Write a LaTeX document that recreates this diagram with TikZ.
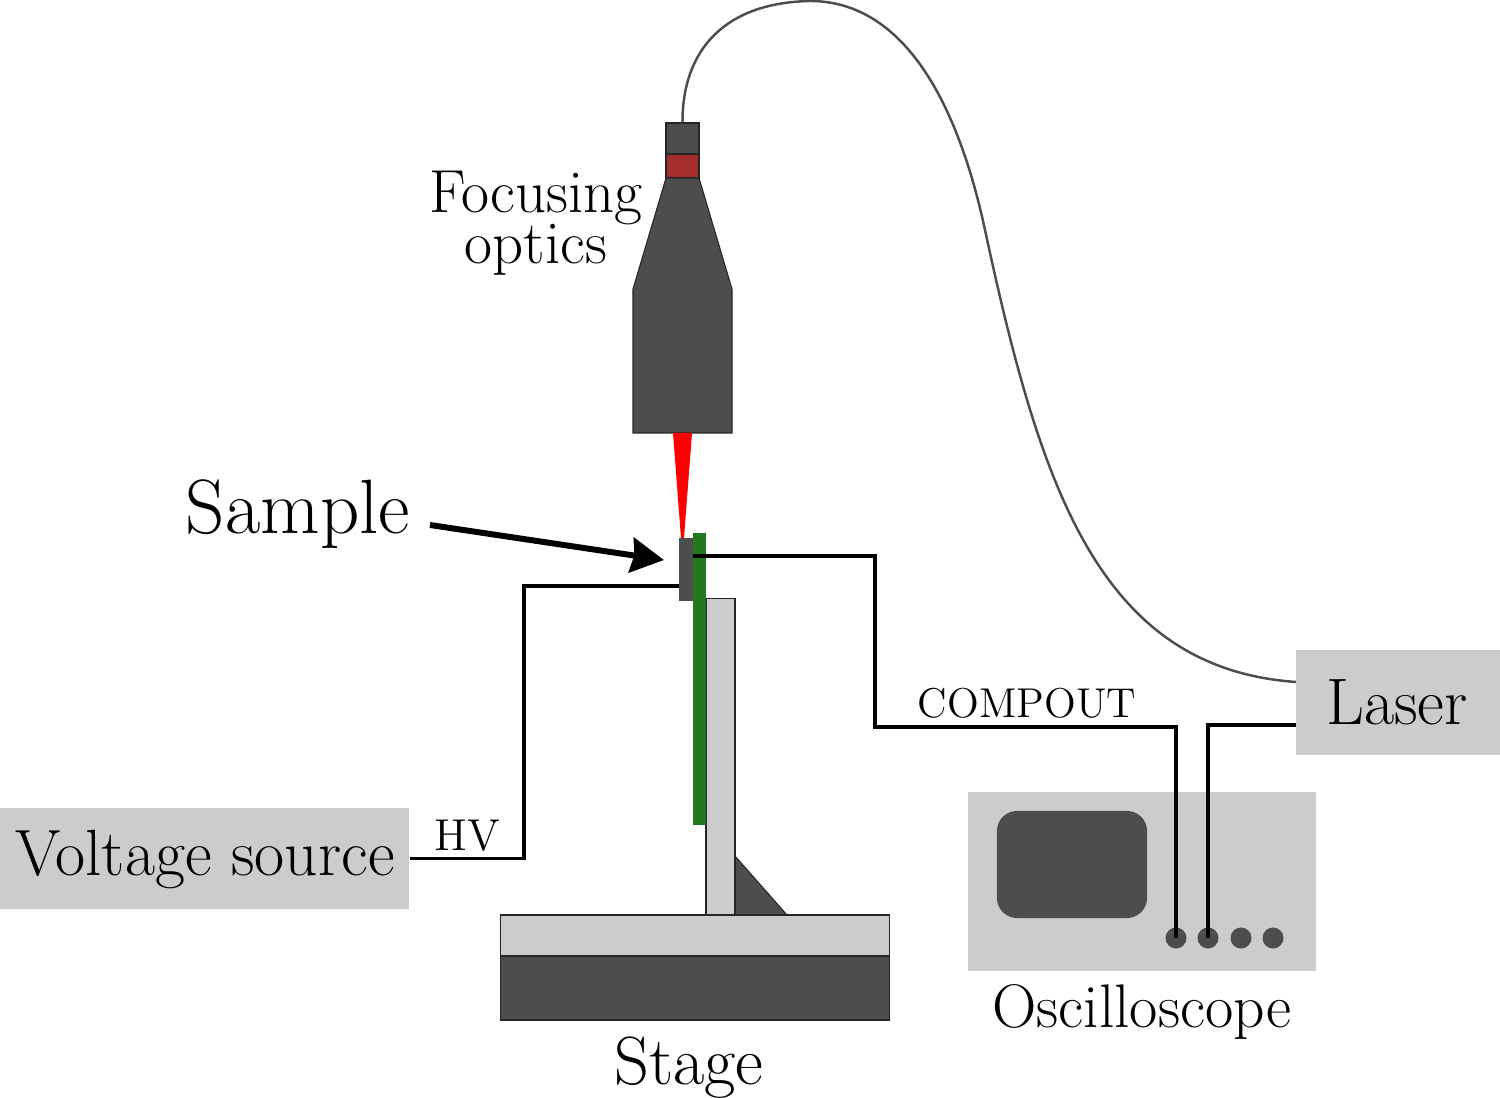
\documentclass[tikz,border=0pt]{standalone}
\usetikzlibrary{arrows.meta}
\definecolor{darkpart}{HTML}{4D4D4D}
\definecolor{lightpart}{HTML}{CCCCCC}
\definecolor{boardgreen}{HTML}{217821}
\definecolor{lensred}{HTML}{A52C2C}
\begin{document}
\begin{tikzpicture}[x=0.01cm,y=-0.01cm]
        \tikzset{part/.style = {rectangle,draw=black!85,line width=0.3pt,inner sep=0pt}}
        \tikzset{device/.style = {rectangle,fill=lightpart,inner sep=0pt}}
        \tikzset{knob/.style = {circle,fill=darkpart,inner sep=0pt,minimum size=0.21cm}}
        \tikzset{wire/.style = {draw=black,line width=1pt}}
        \useasboundingbox (0,0) rectangle (1500,1098);

        % beam and objective
        \node[part,fill=darkpart,minimum width=0.33cm,minimum height=0.31cm] (head) at (682.5,138.5) {};
        \node[part,fill=lensred,minimum width=0.33cm,minimum height=0.24cm] (lens) at (682.5,166) {};
        \draw[draw=black!85,line width=0.3pt,fill=darkpart] (666,178) -- (699,178) -- (732,289) -- (732,433) -- (633,433) -- (633,289) -- cycle;
        \fill[red] (673,433) -- (692,433) -- (684,538) -- (681,538) -- cycle;

        % sample mount
        \draw[draw=black!85,line width=0.3pt,fill=darkpart] (735,856) -- (787,915) -- (735,915) -- cycle;
        \node[part,fill=lightpart,minimum width=0.29cm,minimum height=3.16cm] (post) at (720.5,757) {};
        \node[rectangle,fill=boardgreen,inner sep=0pt,minimum width=0.13cm,minimum height=2.92cm] (board) at (699.5,679) {};
        \node[rectangle,fill=darkpart,inner sep=0pt,minimum width=0.14cm,minimum height=0.63cm] (sample) at (686,569.5) {};
        \node[part,fill=lightpart,minimum width=3.88cm,minimum height=0.41cm] (plate) at (695,935.5) {};
        \node[part,fill=darkpart,minimum width=3.88cm,minimum height=0.64cm] (stage) at (695,988) {};

        % instruments
        \node[device,minimum width=4.09cm,minimum height=1.01cm] (source) at (204.5,858.5) {};
        \node[device,minimum width=2.04cm,minimum height=1.05cm] (laser) at (1398,702.5) {};
        \node[device,minimum width=3.48cm,minimum height=1.79cm] (scope) at (1142,881.5) {};
        \node[rectangle,fill=darkpart,rounded corners=0.2cm,inner sep=0pt,minimum width=1.5cm,minimum height=1.07cm] (screen) at (1072,864.5) {};
        \node[knob] (knobA) at (1176,938) {};
        \node[knob] (knobB) at (1208,938) {};
        \node[knob] (knobC) at (1241,938) {};
        \node[knob] (knobD) at (1273,938) {};

        % labels
        \node[font=\fontsize{21.9}{24}\selectfont] (samplelabel) at (298,514) {Sample};
        \node[font=\fontsize{17.3}{17.3}\selectfont,align=center] (opticslabel) at (536,223) {Focusing\\[-0.1cm]optics};
        \node[font=\fontsize{19.4}{20}\selectfont] (stagelabel) at (689,1068) {Stage};
        \node[font=\fontsize{17.5}{18}\selectfont] (scopelabel) at (1142,1012) {Oscilloscope};
        \node[font=\fontsize{18.7}{20}\selectfont] (laserlabel) at (1397,702) {Laser};
        \node[font=\fontsize{18.6}{20}\selectfont] (sourcelabel) at (205,859) {Voltage source};
        \node[font=\fontsize{12.7}{14}\selectfont] (hvlabel) at (467,836) {HV};
        \node[font=\fontsize{11.85}{14}\selectfont] (compoutlabel) at (1027,703) {COMPOUT};

        % wires
        \coordinate (hvend) at (679,586);
        \coordinate (compoutstart) at (693,556);
        \coordinate (laserout) at (1296,725);
        \coordinate (fiberend) at (1296,682);
        \coordinate (arrowstart) at (430,525);
        \coordinate (arrowend) at (664,560);
        \draw[wire] (source.east) -- (524,858.5) -- (524,586) -- (hvend);
        \draw[wire] (compoutstart) -- (875,556) -- (875,727) -- (1176,727) -- (knobA.center);
        \draw[wire] (laserout) -- (1208,725) -- (knobB.center);
        \draw[draw=darkpart,line width=0.7pt] (head.north) .. controls (682,60) and (715,3) .. (810,1) .. controls (900,1) and (956,95) .. (985,230) .. controls (1040,485) and (1098,668) .. (fiberend);

        \draw[black,line width=1.7pt,-{Stealth[length=0.33cm,width=0.35cm,inset=0.03cm]}] (arrowstart) -- (arrowend);
\end{tikzpicture}
\end{document}
